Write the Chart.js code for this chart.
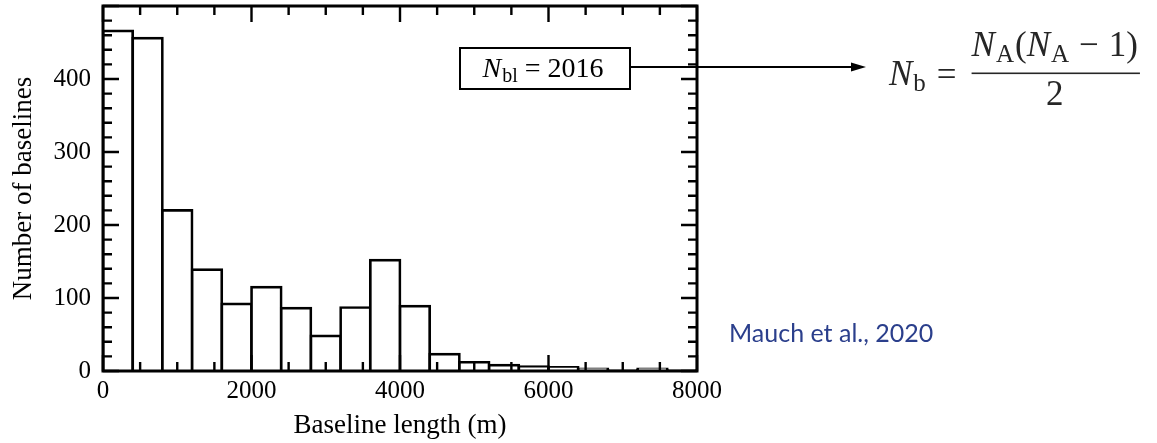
<!DOCTYPE html>
<html>
<head>
<meta charset="utf-8">
<title>Baseline length histogram</title>
<script src="https://cdn.jsdelivr.net/npm/chart.js@4"></script>
<style>
  html, body { margin: 0; padding: 0; background: #fff; }
  #wrap { width: 1157px; height: 443px; position: relative; }
</style>
</head>
<body>
<div id="wrap"><canvas id="hist"></canvas></div>
<script>
// histogram: left edge of each 400 m bin and number of baselines in it
const binStarts = [0, 400, 800, 1200, 1600, 2000, 2400, 2800, 3200, 3600,
                   4000, 4400, 4800, 5200, 5600, 6000, 6400, 6800, 7200, 7600];
const counts = [466, 456, 220, 139, 92, 115, 86, 48, 87, 152,
                89, 23, 12, 8, 6, 5, 3, 1, 3, 1];
const binWidth = 400;
const xTicks = [0, 2000, 4000, 6000, 8000];
const yTicks = [0, 100, 200, 300, 400];
const totalLabel = '2016';

const serif = '"Liberation Serif", "Times New Roman", serif';

// draw a run of text pieces left to right, returns end x
function drawRun(ctx, x, y, parts) {
  for (const p of parts) {
    ctx.font = p.font;
    ctx.fillText(p.text, x, y + (p.dy || 0));
    x += ctx.measureText(p.text).width + (p.gap || 0);
  }
  return x;
}
function runWidth(ctx, parts) {
  let w = 0;
  for (const p of parts) {
    ctx.font = p.font;
    w += ctx.measureText(p.text).width + (p.gap || 0);
  }
  return w;
}

// inward ticks on all four sides + frame
const frameTicks = {
  id: 'frameTicks',
  afterDatasetsDraw(chart) {
    const ctx = chart.ctx;
    const {left, right, top, bottom} = chart.chartArea;
    const xs = chart.scales.x, ys = chart.scales.y;
    ctx.save();
    ctx.strokeStyle = '#000';
    ctx.lineWidth = 2.4;
    ctx.beginPath();
    for (let v = xs.min; v <= xs.max; v += 500) {
      const len = v % 2000 === 0 ? 16 : 9;
      const px = xs.getPixelForValue(v);
      ctx.moveTo(px, bottom); ctx.lineTo(px, bottom - len);
      ctx.moveTo(px, top); ctx.lineTo(px, top + len);
    }
    for (let v = ys.min; v <= ys.max; v += 20) {
      const len = v % 100 === 0 ? 16 : 9;
      const py = ys.getPixelForValue(v);
      ctx.moveTo(left, py); ctx.lineTo(left + len, py);
      ctx.moveTo(right, py); ctx.lineTo(right - len, py);
    }
    ctx.stroke();
    ctx.lineWidth = 3;
    ctx.strokeRect(left, top, right - left, bottom - top);
    ctx.restore();
  }
};

// count box, arrow, formula and citation
const notes = {
  id: 'notes',
  afterDraw(chart) {
    const ctx = chart.ctx;
    ctx.save();
    ctx.fillStyle = '#000';
    ctx.strokeStyle = '#000';
    ctx.textBaseline = 'alphabetic';

    // N_bl = 2016 box
    ctx.lineWidth = 2;
    ctx.strokeRect(460, 48, 170, 41);
    const it = 'italic 28px ' + serif, rm = '28px ' + serif, sub = '20px ' + serif;
    const boxParts = [
      {text: 'N', font: it, gap: 1},
      {text: 'bl', font: sub, dy: 5},
      {text: ' = ' + totalLabel, font: rm}
    ];
    drawRun(ctx, 543 - runWidth(ctx, boxParts) / 2, 77, boxParts);

    // arrow to the formula
    ctx.lineWidth = 2;
    ctx.beginPath();
    ctx.moveTo(630, 67);
    ctx.lineTo(854, 67);
    ctx.stroke();
    ctx.beginPath();
    ctx.moveTo(866, 67);
    ctx.lineTo(851, 62.5);
    ctx.lineTo(851, 71.5);
    ctx.closePath();
    ctx.fill();

    // N_b = N_A (N_A - 1) / 2
    ctx.fillStyle = '#262626';
    const fi = 'italic 35px ' + serif, fr = '35px ' + serif, fs = '25px ' + serif;
    let x = drawRun(ctx, 889, 85, [
      {text: 'N', font: fi, gap: 1},
      {text: 'b', font: fs, dy: 6}
    ]);
    x = drawRun(ctx, x + 11, 86, [{text: '=', font: fr}]);
    const numStart = x + 15;
    const numParts = [
      {text: 'N', font: fi, gap: 1},
      {text: 'A', font: fs, dy: 6, gap: 1},
      {text: '(', font: fr},
      {text: 'N', font: fi, gap: 1},
      {text: 'A', font: fs, dy: 6, gap: 10},
      {text: '\u2212', font: fr, gap: 10},
      {text: '1)', font: fr}
    ];
    const numEnd = drawRun(ctx, numStart, 56, numParts);
    ctx.fillRect(numStart, 72.5, numEnd - numStart + 2, 1.6);
    ctx.font = fr;
    ctx.textAlign = 'center';
    ctx.fillText('2', (numStart + numEnd) / 2, 105);

    // citation
    ctx.textAlign = 'left';
    ctx.textBaseline = 'middle';
    ctx.fillStyle = '#2b3f8c';
    ctx.font = '25px Lato, "Open Sans", sans-serif';
    ctx.fillText('Mauch et al., 2020', 729, 334);
    ctx.restore();
  }
};

new Chart(document.getElementById('hist'), {
  type: 'bar',
  data: {
    datasets: [{
      data: binStarts.map((s, i) => ({x: s + binWidth / 2, y: counts[i]})),
      backgroundColor: '#fff',
      borderColor: '#000',
      borderWidth: 2.7,
      inflateAmount: 1.35,
      barPercentage: 1,
      categoryPercentage: 1
    }]
  },
  options: {
    responsive: true,
    maintainAspectRatio: false,
    animation: false,
    devicePixelRatio: 1,
    layout: { padding: { top: 6, right: 460, left: 0, bottom: 0 } },
    plugins: {
      legend: { display: false },
      tooltip: { enabled: false }
    },
    scales: {
      x: {
        type: 'linear',
        min: 0,
        max: 8000,
        offset: false,
        grid: { display: false, drawTicks: false },
        border: { display: false },
        afterBuildTicks: s => { s.ticks = xTicks.map(v => ({value: v})); },
        afterFit: s => { s.height = 72; s.paddingLeft = 0; s.paddingRight = 0; },
        ticks: {
          color: '#000',
          padding: 5,
          maxRotation: 0,
          font: { family: serif, size: 25 },
          callback: v => String(v)
        },
        title: {
          display: true,
          text: 'Baseline length (m)',
          color: '#000',
          font: { family: serif, size: 27 },
          padding: { top: 0, bottom: 1 }
        }
      },
      y: {
        min: 0,
        max: 500,
        grid: { display: false, drawTicks: false },
        border: { display: false },
        afterBuildTicks: s => { s.ticks = yTicks.map(v => ({value: v})); },
        afterFit: s => { s.width = 103; s.paddingTop = 0; s.paddingBottom = 0; },
        ticks: {
          color: '#000',
          padding: 12,
          font: { family: serif, size: 25 },
          callback: v => String(v)
        },
        title: {
          display: true,
          text: 'Number of baselines',
          color: '#000',
          font: { family: serif, size: 27 },
          padding: { top: 8, bottom: 0 }
        }
      }
    }
  },
  plugins: [frameTicks, notes]
});
</script>
</body>
</html>
